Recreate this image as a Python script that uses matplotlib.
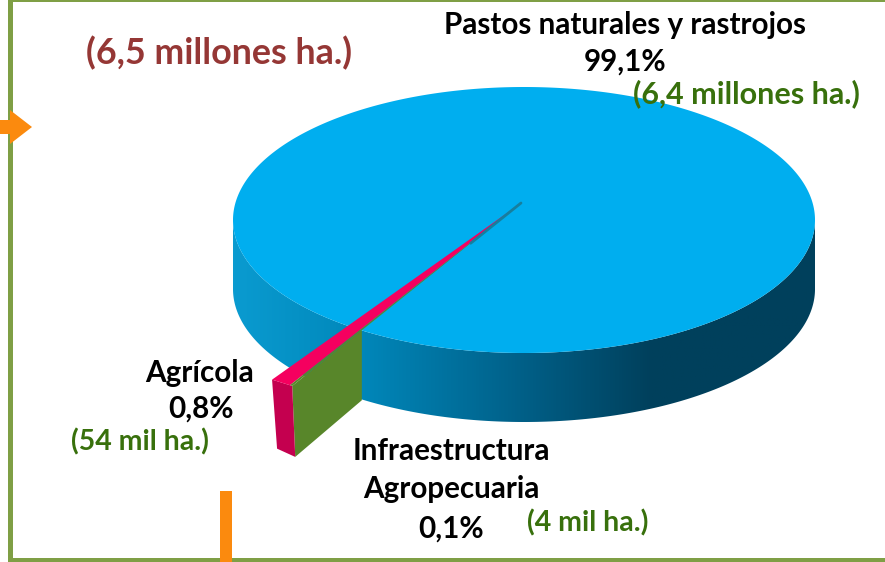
import numpy as np
import matplotlib
matplotlib.use("Agg")
import matplotlib.pyplot as plt
from matplotlib.colors import LinearSegmentedColormap
from matplotlib.patches import Polygon, Rectangle

plt.rcParams["font.family"] = ["Lato", "DejaVu Sans"]

# -----------------------------
# Data
# -----------------------------
categories = ["Pastos naturales y rastrojos", "Agrícola", "Infraestructura\nAgropecuaria"]
shares = [99.1, 0.8, 0.1]
share_labels = ["99,1%", "0,8%", "0,1%"]
areas = ["(6,4 millones ha.)", "(54 mil ha.)", "(4 mil ha.)"]
total_label = "(6,5 millones ha.)"

# -----------------------------
# Pie geometry (pixels)
# -----------------------------
cx, cy = 524, 220
rx, ry = 291, 133
apex = (521, 203)  # slices meet above the ellipse centre, the original has perspective
depth = 69
start_angle = 234.2  # where the small slices begin, degrees
pull_out = 1.48  # small slices stick out of the pie

blue_top = "#00aeef"
pink_top = "#f5005f"
pink_side = "#c4004f"
green_side = "#58862a"
seam = "#167f9e"
frame = "#7f9f45"
orange = "#fb8a0e"
text_green = "#38700c"
text_red = "#953735"

side_cmap = LinearSegmentedColormap.from_list("side", [
    (0.00, "#0a9bd0"), (0.22, "#0087ba"), (0.50, "#005f87"),
    (0.72, "#00405c"), (1.00, "#00405c"),
])


def rim(angle, r=1.0):
    a = np.radians(angle)
    return cx + r * rx * np.cos(a), cy - r * ry * np.sin(a)


fig = plt.figure(figsize=(8.85, 5.62), dpi=100)
ax = fig.add_axes([0, 0, 1, 1])

# slice angles from the shares
pink_end = start_angle + shares[1] * 3.6
green_end = pink_end + shares[2] * 3.6

# -----------------------------
# Blue side wall
# -----------------------------
side_angles = np.linspace(180, 360, 361)
side_x, side_y = rim(side_angles)
side_outline = np.r_[np.c_[side_x, side_y], np.c_[side_x[::-1], side_y[::-1] + depth]]
ramp = np.linspace(0, 1, 512)[None, :]
im = ax.imshow(ramp, cmap=side_cmap, extent=(cx - rx, cx + rx, cy + ry + depth, cy - 5), aspect="auto")
side_patch = Polygon(side_outline, closed=True, fc="none", ec="none", transform=ax.transData)
ax.add_patch(side_patch)
im.set_clip_path(side_patch)

# -----------------------------
# Blue top
# -----------------------------
top_angles = np.linspace(0, 360, 720)
top_x, top_y = rim(top_angles)
ax.add_patch(Polygon(np.c_[top_x, top_y], closed=True, fc=blue_top, ec="none"))

# -----------------------------
# Pulled out slices
# -----------------------------
px0, py0 = rim(start_angle, pull_out)
mx1, my1 = rim(pink_end, pull_out)
gx1, gy1 = rim(green_end, pull_out)

# the green wall starts where the slice edge leaves the ellipse
ts = np.linspace(0, 1, 1000)
edge_x = apex[0] + ts * (gx1 - apex[0])
edge_y = apex[1] + ts * (gy1 - apex[1])
inside = ((edge_x - cx) / rx) ** 2 + ((edge_y - cy) / ry) ** 2 <= 1
gx0, gy0 = edge_x[inside][-1], edge_y[inside][-1]

ax.add_patch(Polygon([(gx0, gy0), (gx1, gy1), (gx1 + 3, gy1 + depth + 2), (gx0, gy0 + depth + 1)],
                     closed=True, fc=green_side, ec="none"))
ax.add_patch(Polygon([(px0, py0), (gx1, gy1), (gx1 + 3, gy1 + depth + 2), (px0 + 5, py0 + depth)],
                     closed=True, fc=pink_side, ec="none"))
ax.add_patch(Polygon([apex, (px0, py0), (mx1, my1)], closed=True, fc=pink_top, ec="none"))
ax.add_patch(Polygon([apex, (mx1, my1), (gx1, gy1)], closed=True, fc=green_side, ec="none"))
# near the apex the slices blur into a dark line
ax.plot([apex[0], apex[0] + 0.22 * (gx1 - apex[0])], [apex[1], apex[1] + 0.22 * (gy1 - apex[1])],
        color=seam, lw=2, solid_capstyle="round")

# -----------------------------
# Frame and arrows
# -----------------------------
ax.add_patch(Rectangle((8, 0), 5, 562, fc=frame, ec="none"))
ax.add_patch(Rectangle((8, 0), 877, 2, fc=frame, ec="none"))
ax.add_patch(Rectangle((8, 558), 877, 4, fc=frame, ec="none"))
ax.add_patch(Polygon([(0, 120), (10, 120), (10, 110), (32, 127), (10, 144), (10, 134), (0, 134)],
                     closed=True, fc=orange, ec="none"))
ax.add_patch(Rectangle((220, 491), 12, 71, fc=orange, ec="none"))

ax.set_xlim(0, 885)
ax.set_ylim(562, 0)
ax.axis("off")

# -----------------------------
# Text
# -----------------------------
fs = 21.3
fs_green = 20.5
ax.text(219, 53, total_label, color=text_red, fontsize=25.8, fontweight="bold", ha="center", va="center")
ax.text(625, 25, categories[0], color="black", fontsize=fs, fontweight="bold", ha="center", va="center")
ax.text(625, 62, share_labels[0], color="black", fontsize=fs, fontweight="bold", ha="center", va="center")
ax.text(746, 94, areas[0], color=text_green, fontsize=22, fontweight="bold", ha="center", va="center")
ax.text(200, 373, categories[1], color="black", fontsize=fs, fontweight="bold", ha="center", va="center")
ax.text(201, 409, share_labels[1], color="black", fontsize=fs, fontweight="bold", ha="center", va="center")
ax.text(140, 442, areas[1], color=text_green, fontsize=fs_green, fontweight="bold", ha="center", va="center")
ax.text(451, 470, categories[2], color="black", fontsize=fs, fontweight="bold", ha="center", va="center",
        linespacing=1.42)
ax.text(451, 529, share_labels[2], color="black", fontsize=fs, fontweight="bold", ha="center", va="center")
ax.text(588, 523, areas[2], color=text_green, fontsize=fs_green, fontweight="bold", ha="center", va="center")

fig.savefig("out.png", dpi=100)
